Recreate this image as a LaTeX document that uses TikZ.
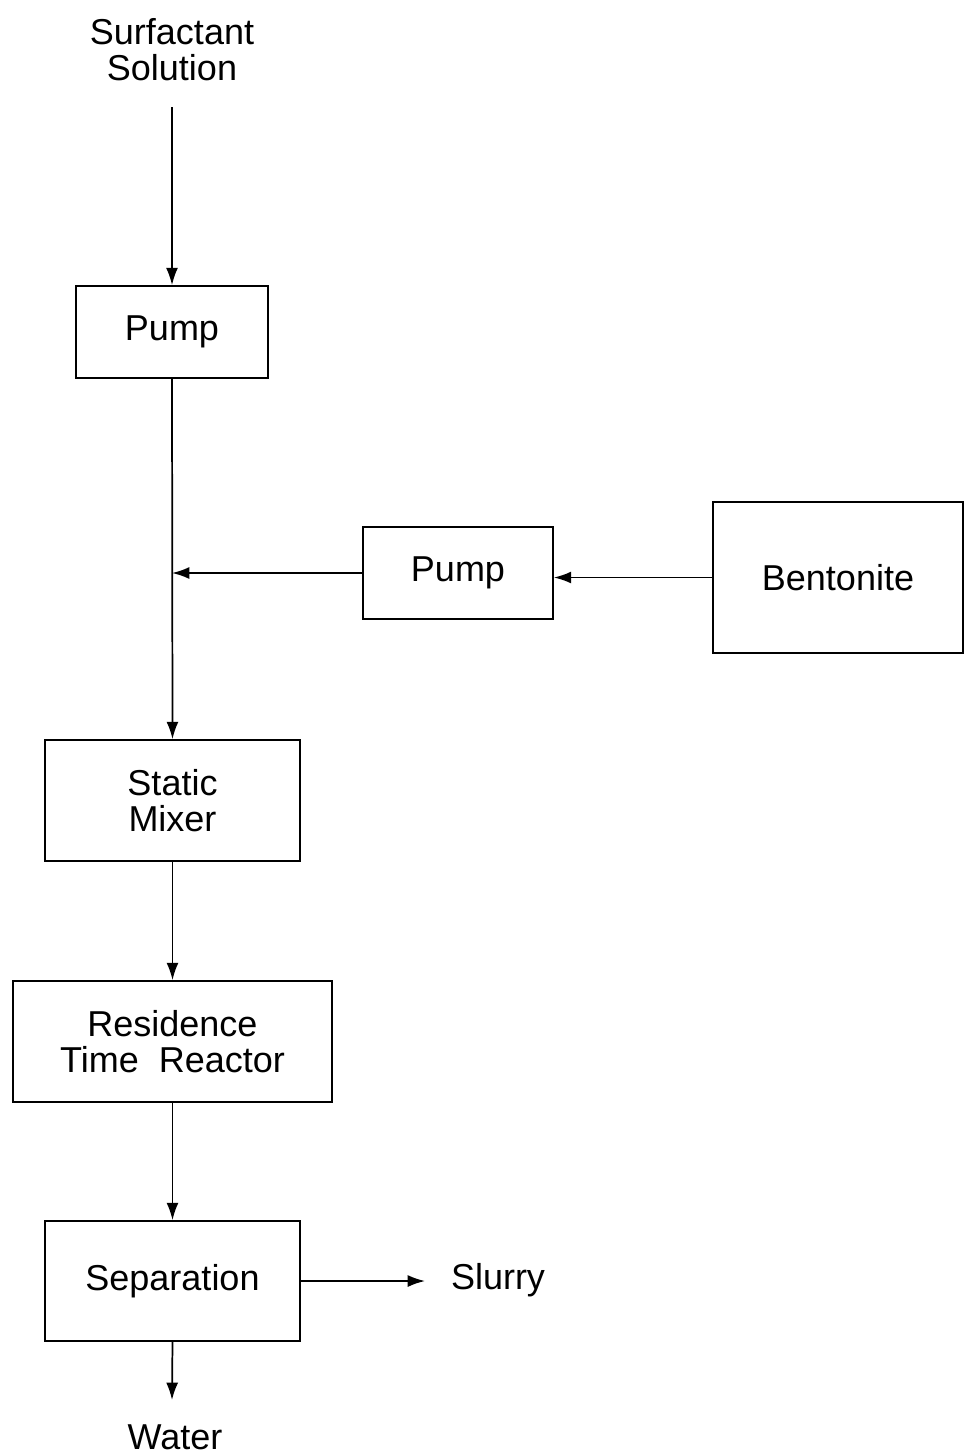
\documentclass[tikz,border=0pt]{standalone}
\usepackage{fontspec}
\setmainfont{Liberation Sans}
\usetikzlibrary{arrows.meta}

\begin{document}
\begin{tikzpicture}[x=0.75pt,y=0.75pt,yscale=-1,xscale=1,
  unit/.style={draw,line width=1.3pt,inner sep=0pt,align=center,font=\fontsize{27}{27}\selectfont},
  label/.style={inner sep=0pt,align=center,font=\fontsize{27}{27}\selectfont},
  flow/.style={line width=1.3pt,-{Latex[length=13pt,width=9pt]}}]
\useasboundingbox (0,0) rectangle (966,1454);

% Process units
\node[unit,minimum width=144pt,minimum height=69pt] (pumpA) at (172,332) {Pump};
\node[unit,minimum width=142.5pt,minimum height=69pt] (pumpB) at (458,573) {Pump};
\node[unit,minimum width=188pt,minimum height=113pt] (bent) at (838,577.5) {Bentonite};
\node[unit,minimum width=191pt,minimum height=90.75pt] (mixer) at (172.5,800.5) {Static\\Mixer};
\node[unit,minimum width=239pt,minimum height=90.75pt] (reactor) at (172.5,1041.5) {Residence\\Time\ \ Reactor};
\node[unit,minimum width=191pt,minimum height=90pt] (sep) at (172.5,1281) {Separation};

% Feed and product labels
\node[label] (feed) at (172,50) {Surfactant\\Solution};
\node[label] (slurry) at (498,1280) {Slurry};
\node[label] (water) at (175,1437) {Water};

\coordinate (feedend) at (172,107);
\coordinate (tee) at (172,573);
\coordinate (slurryend) at (425,1281);
\coordinate (waterend) at (172,1400);

% Streams
\draw[flow] (feedend) -- (pumpA.north);
\draw[flow] (pumpA.south) -- (mixer.north);
\draw[flow] (pumpB.west) -- (tee);
\draw[flow] (bent.west) -- (bent.west -| pumpB.east);
\draw[flow] (mixer.south) -- (reactor.north);
\draw[flow] (reactor.south) -- (sep.north);
\draw[flow] (sep.east) -- (slurryend);
\draw[flow] (sep.south) -- (waterend);

\end{tikzpicture}
\end{document}
